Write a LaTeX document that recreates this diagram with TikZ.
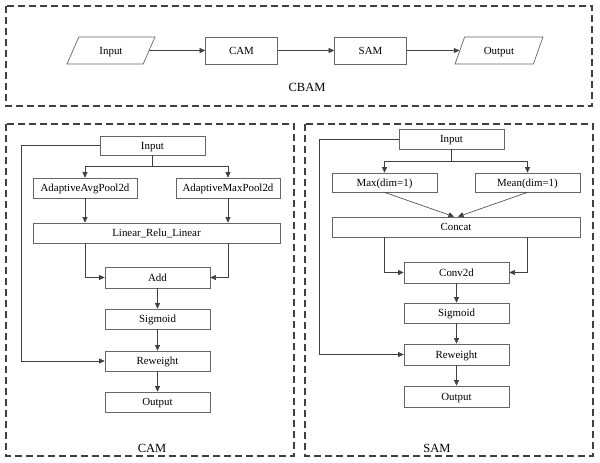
\documentclass[tikz,border=0pt]{standalone}
\usepackage{fontspec}
\setmainfont{Liberation Serif}
\usetikzlibrary{arrows.meta,shapes.geometric}
\definecolor{boxgray}{HTML}{666666}
\definecolor{framegray}{HTML}{404040}
\begin{document}
\begin{tikzpicture}[x=1pt,y=-1pt,
	blk/.style={draw=boxgray, line width=0.7pt, inner sep=0pt, text height=7.3pt, text depth=0pt, minimum height=20, minimum width=105, font=\fontsize{10.9}{12}\selectfont},
	io/.style={draw=boxgray, line width=0.7pt, trapezium, trapezium left angle=60, trapezium right angle=120, trapezium stretches=true, inner sep=0pt, text height=7.3pt, text depth=0pt, minimum width=88, minimum height=27, font=\fontsize{10.9}{12}\selectfont},
	arr/.style={draw=black!75, line width=0.6pt, -{Triangle[length=5.5pt,width=5pt]}},
	frame/.style={draw=framegray, line width=1.1pt, dash pattern=on 7pt off 4pt},
	lbl/.style={font=\fontsize{12.5}{14}\selectfont}]
	\useasboundingbox (0,0) rectangle (600,463);
	
	\draw[frame] (6,6) rectangle (592,106);
	\draw[frame] (6,124) rectangle (294,456);
	\draw[frame] (305,124) rectangle (593,456);
	
	\node[io] (in) at (111,50.5) {Input};
	\node[blk, minimum width=72, minimum height=27] (cam) at (241.5,50.5) {CAM};
	\node[blk, minimum width=72, minimum height=27] (sam) at (370.5,50.5) {SAM};
	\node[io] (out) at (499,50.5) {Output};
	\node[lbl] (cbam) at (307,87) {CBAM};
	
	\draw[arr] (in) -- (cam);
	\draw[arr] (cam) -- (sam);
	\draw[arr] (sam) -- (out);
	
	\node[blk, minimum height=19] (cin) at (152.5,145.5) {Input};
	\node[blk, minimum width=104] (avg) at (85,188) {AdaptiveAvgPool2d};
	\node[blk, minimum width=104] (maxp) at (228,188) {AdaptiveMaxPool2d};
	\node[blk, minimum width=247] (lrl) at (156.5,233) {Linear\_Relu\_Linear};
	\node[blk, minimum height=21] (add) at (157.5,277.5) {Add};
	\node[blk] (csig) at (157.5,319) {Sigmoid};
	\node[blk] (crew) at (157.5,361) {Reweight};
	\node[blk] (cout) at (157.5,402) {Output};
	\node[lbl] (camlbl) at (152,448) {CAM};
	\coordinate (csplit) at (152.5,166);
	\coordinate (cback) at (21,145.5);
	
	\draw[arr] (cin.south) -- (csplit) -| (avg.north);
	\draw[arr] (csplit) -| (maxp.north);
	\draw[arr] (avg) -- (avg |- lrl.north);
	\draw[arr] (maxp) -- (maxp |- lrl.north);
	\draw[arr] (lrl.south -| avg) |- (add.west);
	\draw[arr] (lrl.south -| maxp) |- (add.east);
	\draw[arr] (add) -- (csig);
	\draw[arr] (csig) -- (crew);
	\draw[arr] (crew) -- (cout);
	\draw[arr] (cin.west) -- (cback) |- (crew.west);
	
	\node[blk] (sin) at (451.5,139) {Input};
	\node[blk, minimum height=19] (smax) at (384.5,182.5) {Max(dim=1)};
	\node[blk, minimum height=19] (smean) at (527.5,182.5) {Mean(dim=1)};
	\node[blk, minimum width=248] (cat) at (456,227) {Concat};
	\node[blk, minimum height=21] (conv) at (456.5,272.5) {Conv2d};
	\node[blk] (ssig) at (456.5,313) {Sigmoid};
	\node[blk, minimum height=21] (srew) at (456.5,354.5) {Reweight};
	\node[blk, minimum height=21] (sout) at (456.5,396.5) {Output};
	\node[lbl] (samlbl) at (437,448) {SAM};
	\coordinate (ssplit) at (451.5,161);
	\coordinate (sback) at (319,139);
	
	\draw[arr] (sin.south) -- (ssplit) -| (smax.north);
	\draw[arr] (ssplit) -| (smean.north);
	\draw[arr] (smax.south) -- ([xshift=-2]cat.north);
	\draw[arr] (smean.south) -- ([xshift=2]cat.north);
	\draw[arr] (cat.south -| smax) |- (conv.west);
	\draw[arr] (cat.south -| smean) |- (conv.east);
	\draw[arr] (conv) -- (ssig);
	\draw[arr] (ssig) -- (srew);
	\draw[arr] (srew) -- (sout);
	\draw[arr] (sin.west) -- (sback) |- (srew.west);
\end{tikzpicture}
\end{document}
